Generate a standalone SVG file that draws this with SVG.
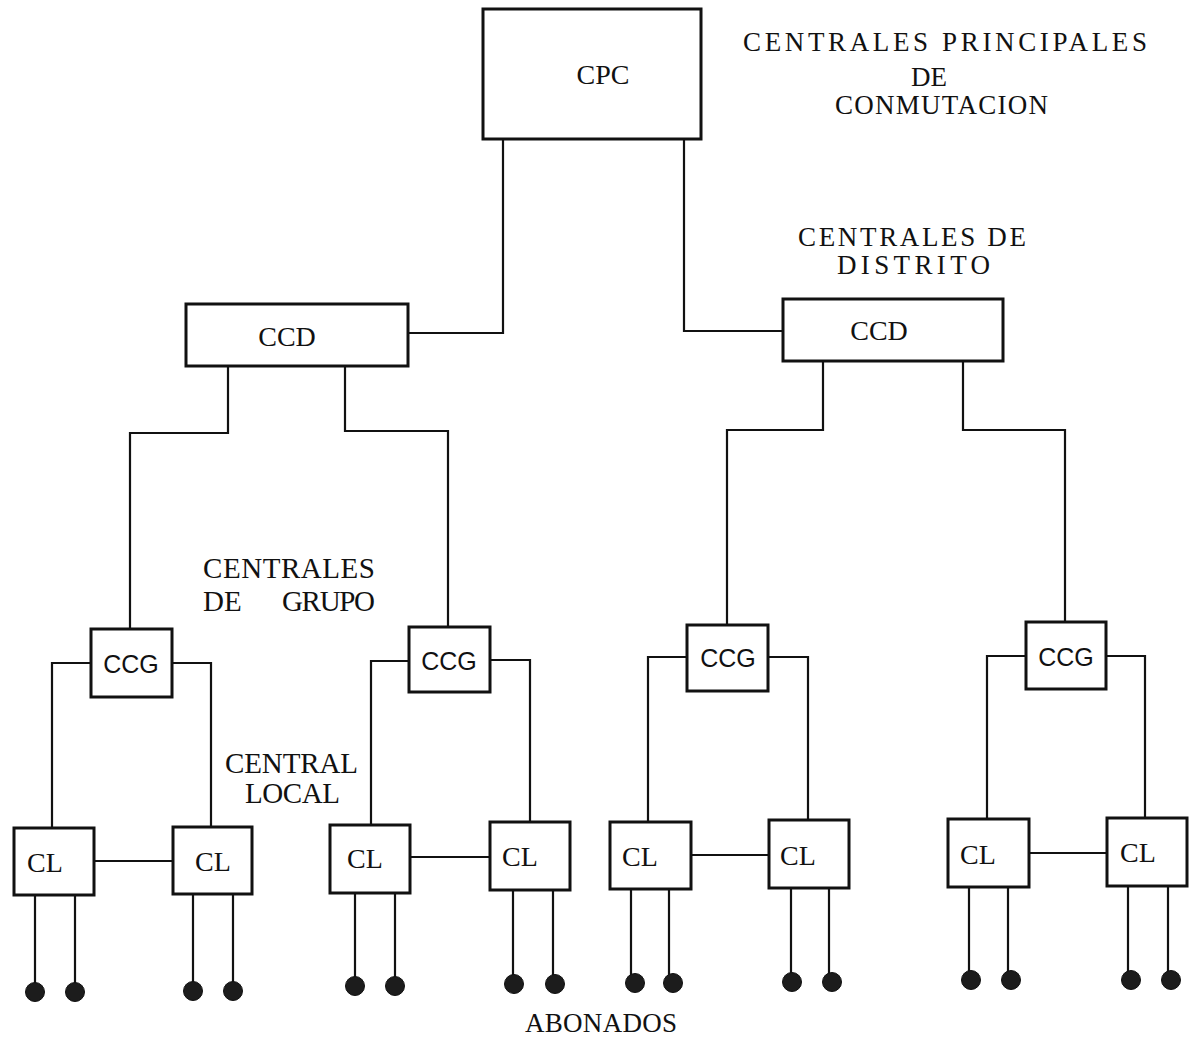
<svg xmlns="http://www.w3.org/2000/svg" width="1194" height="1041" viewBox="0 0 1194 1041">
<style>
.box{fill:#fff;stroke:#111;stroke-width:3}
.ln{fill:none;stroke:#111;stroke-width:2.2;stroke-linejoin:miter}
.dot{fill:#1c1c1c;stroke:#111;stroke-width:1}
.t{font-family:"Liberation Serif","DejaVu Serif",serif;font-size:28px;fill:#111;text-anchor:middle}
.s{font-family:"Liberation Sans","DejaVu Sans",sans-serif;font-size:25px;fill:#111;text-anchor:middle}
.lab{font-family:"Liberation Serif","DejaVu Serif",serif;font-size:27px;fill:#111}
.lab2{font-family:"Liberation Serif","DejaVu Serif",serif;font-size:29px;fill:#111}
</style>
<rect width="1194" height="1041" fill="#fff"/>
<g id="connectors">
<path class="ln" d="M503 139 V333 H408"/>
<path class="ln" d="M684 139 V331 H783"/>
<path class="ln" d="M228 366 V433 H130 V629"/>
<path class="ln" d="M345 366 V431 H448 V627"/>
<path class="ln" d="M823 361 V430 H727 V625"/>
<path class="ln" d="M963 361 V430 H1065 V622"/>
<path class="ln" d="M91 663 H52 V828"/>
<path class="ln" d="M172 663 H211 V827"/>
<path class="ln" d="M94 861 H173"/>
<path class="ln" d="M409 661 H371 V825"/>
<path class="ln" d="M490 660 H530 V822"/>
<path class="ln" d="M410 857 H490"/>
<path class="ln" d="M687 657 H648 V822"/>
<path class="ln" d="M768 657 H808 V820"/>
<path class="ln" d="M691 855 H769"/>
<path class="ln" d="M1026 656 H987 V819"/>
<path class="ln" d="M1106 656 H1145 V818"/>
<path class="ln" d="M1029 853 H1107"/>
<path class="ln" d="M35 895 V992 M75 895 V992 M193 894 V991 M233 894 V991"/>
<path class="ln" d="M355 893 V986 M395 893 V986 M513 890 V984 M553 890 V984"/>
<path class="ln" d="M631 889 V983 M669 889 V983 M791 888 V982 M829 888 V982"/>
<path class="ln" d="M969 887 V980 M1008 887 V980 M1128 886 V980 M1168 886 V980"/>
</g>
<g id="cpc"><rect class="box" x="483" y="9" width="218" height="130"/><text class="t" x="603" y="84">CPC</text></g>
<g id="ccd1"><rect class="box" x="186" y="304" width="222" height="62"/><text class="t" x="287" y="346">CCD</text></g>
<g id="ccd2"><rect class="box" x="783" y="299" width="220" height="62"/><text class="t" x="879" y="340">CCD</text></g>
<g id="ccg1"><rect class="box" x="91" y="629" width="81" height="68"/><text class="s" x="131" y="673">CCG</text></g>
<g id="ccg2"><rect class="box" x="409" y="627" width="81" height="65"/><text class="s" x="449" y="670">CCG</text></g>
<g id="ccg3"><rect class="box" x="687" y="625" width="81" height="66"/><text class="s" x="728" y="667">CCG</text></g>
<g id="ccg4"><rect class="box" x="1026" y="622" width="80" height="67"/><text class="s" x="1066" y="666">CCG</text></g>
<g id="cl1"><rect class="box" x="14" y="828" width="80" height="67"/><text class="t" x="45" y="872">CL</text></g>
<g id="cl2"><rect class="box" x="173" y="827" width="79" height="67"/><text class="t" x="213" y="871">CL</text></g>
<g id="cl3"><rect class="box" x="330" y="825" width="80" height="68"/><text class="t" x="365" y="868">CL</text></g>
<g id="cl4"><rect class="box" x="490" y="822" width="80" height="68"/><text class="t" x="520" y="866">CL</text></g>
<g id="cl5"><rect class="box" x="610" y="822" width="81" height="67"/><text class="t" x="640" y="866">CL</text></g>
<g id="cl6"><rect class="box" x="769" y="820" width="80" height="68"/><text class="t" x="798" y="865">CL</text></g>
<g id="cl7"><rect class="box" x="948" y="819" width="81" height="68"/><text class="t" x="978" y="864">CL</text></g>
<g id="cl8"><rect class="box" x="1107" y="818" width="80" height="68"/><text class="t" x="1138" y="862">CL</text></g>
<g id="abonados">
<circle class="dot" cx="35" cy="992" r="9.5"/><circle class="dot" cx="75" cy="992" r="9.5"/>
<circle class="dot" cx="193" cy="991" r="9.5"/><circle class="dot" cx="233" cy="991" r="9.5"/>
<circle class="dot" cx="355" cy="986" r="9.5"/><circle class="dot" cx="395" cy="986" r="9.5"/>
<circle class="dot" cx="514" cy="984" r="9.5"/><circle class="dot" cx="555" cy="984" r="9.5"/>
<circle class="dot" cx="635" cy="983" r="9.5"/><circle class="dot" cx="673" cy="983" r="9.5"/>
<circle class="dot" cx="792" cy="982" r="9.5"/><circle class="dot" cx="832" cy="982" r="9.5"/>
<circle class="dot" cx="971" cy="980" r="9.5"/><circle class="dot" cx="1011" cy="980" r="9.5"/>
<circle class="dot" cx="1131" cy="980" r="9.5"/><circle class="dot" cx="1171" cy="980" r="9.5"/>
</g>
<g id="labels">
<text class="lab" x="743" y="51" textLength="404" lengthAdjust="spacing">CENTRALES PRINCIPALES</text>
<text class="lab" x="929" y="86" text-anchor="middle">DE</text>
<text class="lab" x="835" y="114" textLength="213" lengthAdjust="spacing">CONMUTACION</text>
<text class="lab" x="798" y="246" textLength="228" lengthAdjust="spacing">CENTRALES DE</text>
<text class="lab" x="837" y="274" textLength="153" lengthAdjust="spacing">DISTRITO</text>
<text class="lab2" x="203" y="578" textLength="172" lengthAdjust="spacing">CENTRALES</text>
<text class="lab2" x="203" y="611">DE</text>
<text class="lab2" x="282" y="611" textLength="93" lengthAdjust="spacing">GRUPO</text>
<text class="lab2" x="225" y="773" textLength="133" lengthAdjust="spacing">CENTRAL</text>
<text class="lab2" x="245" y="803" textLength="95" lengthAdjust="spacing">LOCAL</text>
<text class="lab" x="525" y="1032" textLength="152" lengthAdjust="spacing">ABONADOS</text>
</g>
</svg>
